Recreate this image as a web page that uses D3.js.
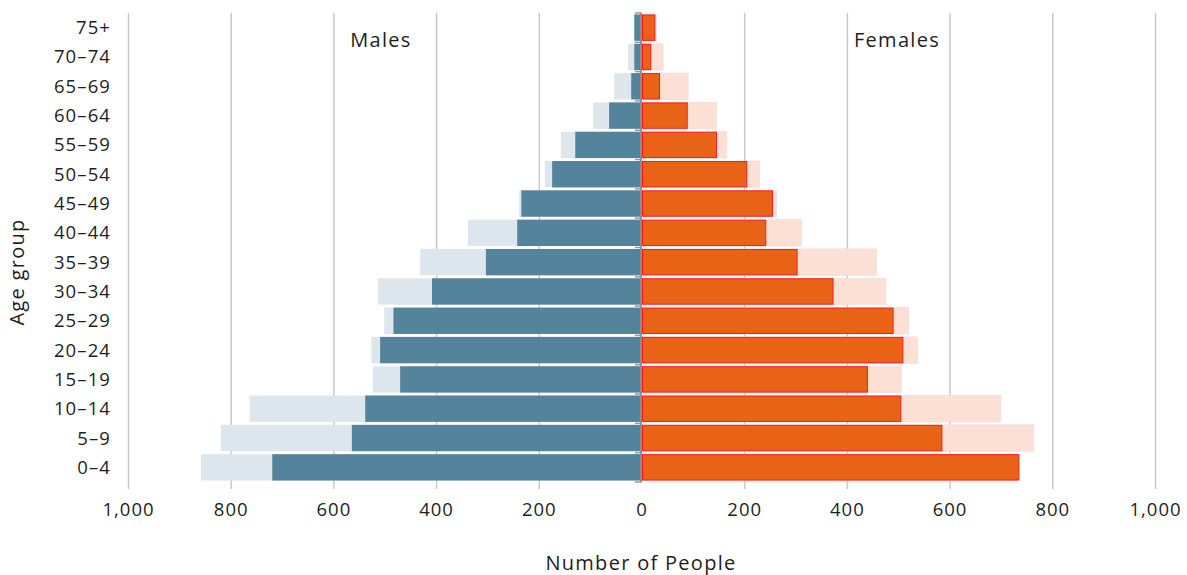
<!DOCTYPE html>
<html><head><meta charset="utf-8">
<script src="https://cdnjs.cloudflare.com/ajax/libs/d3/7.8.5/d3.min.js"></script>
<style>
body{margin:0;background:#fff;}
text{font-family:"Open Sans","Noto Sans",sans-serif;fill:#1e1e1e;}
</style></head>
<body><svg id="c" width="1187" height="575"></svg>
<script>
const ageGroups = ["75+","70–74","65–69","60–64","55–59","50–54","45–49","40–44","35–39","30–34","25–29","20–24","15–19","10–14","5–9","0–4"];
const malesCurrent   = [15,15,21,64,130,175,235,243,304,409,484,510,471,539,565,720];
const malesCompare   = [16,27,54,95,158,189,239,339,432,514,502,527,524,764,820,859];
const femalesCurrent = [26,18,35,89,146,205,255,242,303,373,490,509,440,505,585,735];
const femalesCompare = [28,41,90,145,165,229,262,311,457,475,519,537,505,699,763,730];
const maleTicks = [1000,800,600,400,200,0];
const femaleTicks = [200,400,600,800,1000];

const svg = d3.select("#c");
const xL = d3.scaleLinear().domain([0,1000]).range([642,128.5]);
const xR = d3.scaleLinear().domain([0,1000]).range([642,1155.5]);
const y = d3.scaleBand().domain(ageGroups).range([13,482]).paddingInner(0.1).paddingOuter(0.05);
const fmt = d3.format(",");

// gridlines
const gl = svg.append("g");
maleTicks.filter(d=>d>0).forEach(d=>{
  gl.append("line").attr("x1",xL(d)).attr("x2",xL(d)).attr("y1",13).attr("y2",489).attr("stroke","#c8c8c8").attr("stroke-width",1.5);
});
femaleTicks.forEach(d=>{
  gl.append("line").attr("x1",xR(d)).attr("x2",xR(d)).attr("y1",13).attr("y2",489).attr("stroke","#c8c8c8").attr("stroke-width",1.5);
});

// bars
const rows = ageGroups.map((a,i)=>({a, mc:malesCurrent[i], mp:malesCompare[i], fc:femalesCurrent[i], fp:femalesCompare[i]}));
svg.append("g").selectAll("rect").data(rows).join("rect")
  .attr("x",d=>xL(d.mp)).attr("y",d=>y(d.a)).attr("width",d=>xL(0)-xL(d.mp)).attr("height",y.bandwidth())
  .attr("fill","#dce6ec");
svg.append("g").selectAll("rect").data(rows).join("rect")
  .attr("x",d=>xR(0)).attr("y",d=>y(d.a)).attr("width",d=>xR(d.fp)-xR(0)).attr("height",y.bandwidth())
  .attr("fill","#fbe0d3").attr("stroke","#f1dde6").attr("stroke-width",0.8);
svg.append("g").selectAll("rect").data(rows).join("rect")
  .attr("x",d=>xL(d.mc)).attr("y",d=>y(d.a)).attr("width",d=>xL(0)-xL(d.mc)).attr("height",y.bandwidth())
  .attr("fill","#54849b");
svg.append("g").selectAll("rect").data(rows).join("rect")
  .attr("x",d=>xR(0)+0.5).attr("y",d=>y(d.a)+0.5).attr("width",d=>xR(d.fc)-xR(0)-1).attr("height",y.bandwidth()-1)
  .attr("fill","#e86316").attr("stroke","#ff1a1a").attr("stroke-width",1);

// center axis
const ax = svg.append("g");
ax.append("line").attr("x1",641).attr("x2",641).attr("y1",13).attr("y2",482).attr("stroke","#8c8c8c").attr("stroke-width",2);
const bounds = ageGroups.map(a=>y(a)-y.step()*y.paddingInner()/2).concat([y(ageGroups[15])+y.bandwidth()+y.step()*y.paddingInner()/2]);
bounds.forEach(b=>{
  ax.append("line").attr("x1",635).attr("x2",642).attr("y1",b).attr("y2",b).attr("stroke","#999").attr("stroke-width",1.5);
});

// y labels
svg.append("g").selectAll("text").data(ageGroups).join("text")
  .attr("x",111).attr("y",d=>y(d)+y.bandwidth()/2).attr("dy","0.35em")
  .attr("text-anchor","end").attr("font-size",18.5).attr("letter-spacing",1.1).text(d=>d);

// x labels
svg.append("g").selectAll("text").data(maleTicks).join("text")
  .attr("x",d=>xL(d)).attr("y",516).attr("text-anchor","middle").attr("font-size",18.5).attr("letter-spacing",1).text(d=>fmt(d));
svg.append("g").selectAll("text").data(femaleTicks).join("text")
  .attr("x",d=>xR(d)).attr("y",516).attr("text-anchor","middle").attr("font-size",18.5).attr("letter-spacing",1).text(d=>fmt(d));

// titles
svg.append("text").attr("x",641).attr("y",570).attr("text-anchor","middle").attr("font-size",20).attr("letter-spacing",1.3).text("Number of People");
svg.append("text").attr("transform","translate(24,272) rotate(-90)").attr("text-anchor","middle").attr("font-size",20).attr("letter-spacing",1.3).text("Age group");
svg.append("text").attr("x",381).attr("y",47).attr("text-anchor","middle").attr("font-size",20).attr("letter-spacing",1.3).text("Males");
svg.append("text").attr("x",897).attr("y",47).attr("text-anchor","middle").attr("font-size",20).attr("letter-spacing",1.3).text("Females");
</script></body></html>
